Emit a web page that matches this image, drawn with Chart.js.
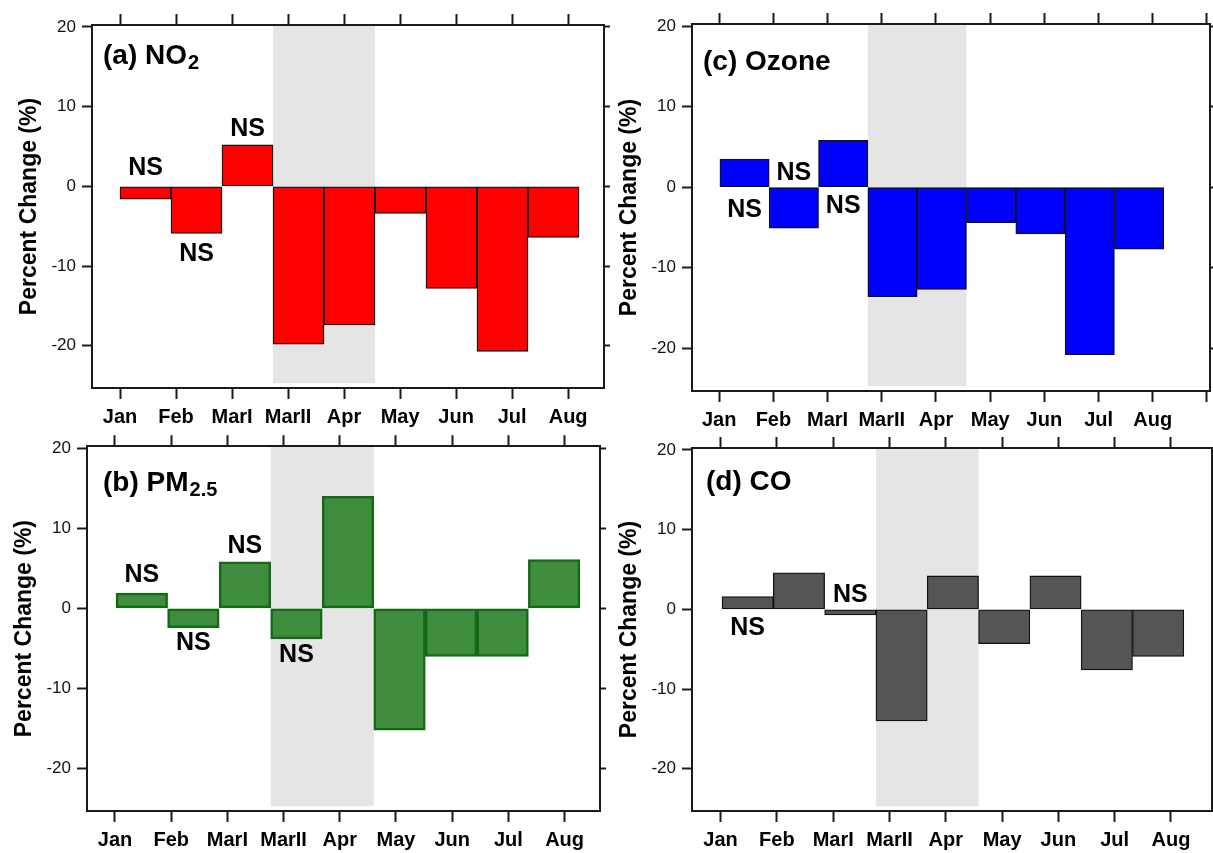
<!DOCTYPE html>
<html>
<head>
<meta charset="utf-8">
<script src="https://cdn.jsdelivr.net/npm/chart.js@4.4.1/dist/chart.umd.min.js"></script>
<style>
  html, body { margin: 0; padding: 0; background: #fff; }
  body { width: 1213px; height: 853px; position: relative; overflow: hidden; }
  canvas { position: absolute; }
</style>
</head>
<body>
<canvas id="no2"></canvas>
<canvas id="ozone"></canvas>
<canvas id="pm25"></canvas>
<canvas id="co"></canvas>
<script>
// categories and ticks
const months = ["Jan", "Feb", "MarI", "MarII", "Apr", "May", "Jun", "Jul", "Aug"];
const yTicks = [-20, -10, 0, 10, 20];

// percent change per period
const no2Change   = [-1.6, -5.9, 5.2, -19.8, -17.4, -3.4, -12.8, -20.7, -6.4];
const pm25Change  = [1.9, -2.4, 5.8, -3.8, 14.0, -15.2, -6.0, -6.0, 6.1];
const ozoneChange = [3.5, -5.1, 5.8, -13.6, -12.7, -4.4, -5.8, -20.8, -7.7];
const coChange    = [1.6, 4.6, -0.7, -14.0, 4.2, -4.3, 4.2, -7.6, -5.9];

// "NS" (not significant) marks: which period, and the level (in %) the text sits at
const no2NS   = [0, 1, 2];     const no2NSAt   = [2.3, -8.5, 7.2];
const pm25NS  = [0, 1, 2, 3];  const pm25NSAt  = [4.1, -4.3, 7.8, -5.8];
const ozoneNS = [0, 1, 2];     const ozoneNSAt = [-2.9, 1.8, -2.4];
const coNS    = [0, 2];        const coNSAt    = [-2.4, 1.8];

// lockdown period shading (MarII .. Apr)
const lockFrom = 3, lockTo = 5, lockBottom = -24.7;

const INK = "#1a1a1a";
const FONT = "'Liberation Sans', Arial, Helvetica, sans-serif";

const panels = [
  { id: "no2", label: "(a) NO", sub: "2", values: no2Change, ns: no2NS, nsAt: no2NSAt,
    fill: "#ff0000", edge: "#111", edgeW: 1.3,
    x: 0, y: 0, w: 610, h: 430, area: { l: 92, t: 25, r: 604, b: 388 },
    xMin: -0.5, xMax: 8.64, barMin: -0.549, barMax: 9.49, nTicks: 9,
    labelAt: [11, 39], titlePad: 16 },
  { id: "ozone", label: "(c) Ozone", sub: "", values: ozoneChange, ns: ozoneNS, nsAt: ozoneNSAt,
    fill: "#0000ff", edge: "#111", edgeW: 1.3,
    x: 600, y: 0, w: 613, h: 430, area: { l: 692, t: 24, r: 1211.5, b: 391 },
    xMin: -0.502, xMax: 9.048, barMin: -0.566, barMax: 9.93, nTicks: 10,
    labelAt: [11, 46], titlePad: 16 },
  { id: "pm25", label: "(b) PM", sub: "2.5", values: pm25Change, ns: pm25NS, nsAt: pm25NSAt,
    fill: "#3f8c3f", edge: "#136a13", edgeW: 2.5,
    x: 0, y: 430, w: 610, h: 423, area: { l: 87, t: 445, r: 600, b: 811 },
    xMin: -0.498, xMax: 8.63, barMin: -0.564, barMax: 9.39, nTicks: 9,
    labelAt: [16, 45], titlePad: 11 },
  { id: "co", label: "(d) CO", sub: "", values: coChange, ns: coNS, nsAt: coNSAt,
    fill: "#555555", edge: "#111", edgeW: 1.3,
    x: 600, y: 430, w: 613, h: 423, area: { l: 692, t: 448, r: 1211.5, b: 811 },
    xMin: -0.508, xMax: 8.72, barMin: -0.585, barMax: 9.54, nTicks: 9,
    labelAt: [14, 42], titlePad: 16 }
];

function tickGrid(len) {
  return { offset: false, drawOnChartArea: false, drawTicks: true, tickLength: len, tickWidth: 2, tickColor: INK };
}
const frameLine = { display: true, width: 2, color: INK };

function makePanel(p) {
  const cv = document.getElementById(p.id);
  cv.width = p.w;
  cv.height = p.h;
  cv.style.left = p.x + "px";
  cv.style.top = p.y + "px";
  const a = p.area;
  const monthTicks = Array.from({ length: p.nTicks }, (_, i) => i);

  // shading, NS marks and the panel label
  const decor = {
    id: "decor",
    beforeDraw(chart) {
      const ctx = chart.ctx, xb = chart.scales.xb, y = chart.scales.y;
      const x0 = xb.getPixelForValue(lockFrom), x1 = xb.getPixelForValue(lockTo);
      const top = chart.chartArea.top, bot = y.getPixelForValue(lockBottom);
      ctx.save();
      ctx.fillStyle = "#e5e5e5";
      ctx.fillRect(x0, top, x1 - x0, bot - top);
      ctx.restore();
    },
    afterDatasetsDraw(chart) {
      const ctx = chart.ctx, xb = chart.scales.xb, y = chart.scales.y;
      ctx.save();
      ctx.fillStyle = "#000";
      ctx.font = "bold 25px " + FONT;
      ctx.textAlign = "center";
      ctx.textBaseline = "middle";
      p.ns.forEach((i, k) => {
        ctx.fillText("NS", xb.getPixelForValue(i + 0.5), y.getPixelForValue(p.nsAt[k]));
      });
      const ca = chart.chartArea;
      const lx = ca.left + p.labelAt[0], ly = ca.top + p.labelAt[1];
      ctx.textAlign = "left";
      ctx.textBaseline = "alphabetic";
      ctx.font = "bold 28px " + FONT;
      ctx.fillText(p.label, lx, ly);
      if (p.sub) {
        const wMain = ctx.measureText(p.label).width;
        ctx.font = "bold 20px " + FONT;
        ctx.fillText(p.sub, lx + wMain + 1, ly + 5);
      }
      ctx.restore();
    }
  };

  new Chart(cv, {
    type: "bar",
    data: {
      datasets: [{
        data: p.values.map((v, i) => ({ x: i + 0.5, y: v })),
        xAxisID: "xb",
        yAxisID: "y",
        backgroundColor: p.fill,
        borderColor: p.edge,
        borderWidth: p.edgeW,
        borderSkipped: false,
        barPercentage: 1,
        categoryPercentage: 1
      }]
    },
    options: {
      responsive: false,
      animation: false,
      devicePixelRatio: 1,
      layout: { padding: 0 },
      plugins: { legend: { display: false }, tooltip: { enabled: false } },
      scales: {
        xb: { type: "linear", display: false, offset: false, grid: { offset: false }, min: p.barMin, max: p.barMax },
        x: {
          type: "linear", position: "bottom", offset: false, min: p.xMin, max: p.xMax,
          afterBuildTicks: s => { s.ticks = monthTicks.map(v => ({ value: v })); },
          ticks: {
            callback: v => months[v] ?? "",
            autoSkip: false, maxRotation: 0, padding: 6, color: "#000",
            font: { family: FONT, size: 20, weight: "bold" }
          },
          grid: tickGrid(11),
          border: frameLine,
          afterFit: s => { s.height = p.y + p.h - a.b; }
        },
        xt: {
          type: "linear", position: "top", offset: false, min: p.xMin, max: p.xMax,
          afterBuildTicks: s => { s.ticks = monthTicks.map(v => ({ value: v })); },
          ticks: { display: false },
          grid: tickGrid(11),
          border: frameLine,
          afterFit: s => { s.height = a.t - p.y; }
        },
        y: {
          type: "linear", position: "left", min: -25.3, max: 20.25,
          afterBuildTicks: s => { s.ticks = yTicks.map(v => ({ value: v })); },
          ticks: { padding: 6, color: "#111", font: { family: FONT, size: 17 } },
          grid: tickGrid(10),
          border: frameLine,
          title: {
            display: true, text: "Percent Change (%)", color: "#000",
            font: { family: FONT, size: 23, weight: "bold" },
            padding: { top: p.titlePad, bottom: 0 }
          },
          afterFit: s => { s.width = a.l - p.x; }
        },
        y2: {
          type: "linear", position: "right", min: -25.3, max: 20.25,
          afterBuildTicks: s => { s.ticks = yTicks.map(v => ({ value: v })); },
          ticks: { display: false },
          grid: tickGrid(6),
          border: frameLine,
          afterFit: s => { s.width = p.x + p.w - a.r; }
        }
      }
    },
    plugins: [decor]
  });
}

panels.forEach(makePanel);
</script>
</body>
</html>
